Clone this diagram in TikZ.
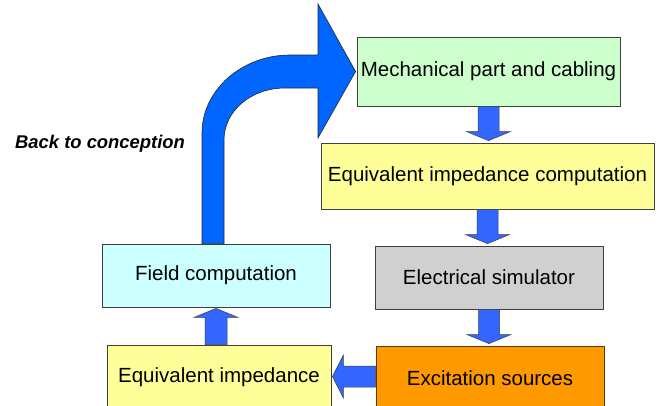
\documentclass[tikz,border=0pt]{standalone}
\usepackage{fontspec}
\setmainfont{Liberation Sans}
\usetikzlibrary{calc}
\definecolor{boxgreen}{HTML}{CCFFCC}
\definecolor{boxyellow}{HTML}{FFFF99}
\definecolor{boxgrey}{HTML}{D0D0D0}
\definecolor{boxorange}{HTML}{FF9900}
\definecolor{boxcyan}{HTML}{CCFFFF}
\definecolor{flowblue}{HTML}{3366FF}
\definecolor{loopblue}{HTML}{0066FF}
\definecolor{edgegrey}{HTML}{404040}
\definecolor{edgebrown}{HTML}{5A3A00}
\tikzset{
  stage/.style={draw=edgegrey, line width=0.8pt, rectangle, inner sep=0pt,
    font=\fontsize{20.5}{24}\selectfont},
  flowarrow/.style={fill=flowblue, draw=edgegrey, line width=0.5pt, line join=miter},
  looparrow/.style={fill=loopblue, draw=black!85, line width=0.6pt},
  note/.style={inner sep=0pt, font=\fontsize{18.4}{22}\selectfont\bfseries\itshape}
}
\begin{document}
\begin{tikzpicture}[x=1pt, y=-1pt]
  \clip (0,0) rectangle (670,405);
  \useasboundingbox (0,0) rectangle (670,405);

  % process stages
  \node[stage, fill=boxgreen, minimum width=263pt, minimum height=69pt] (mech) at (488.5,71.5) {Mechanical part and cabling};
  \node[stage, fill=boxyellow, minimum width=333pt, minimum height=66pt] (eic) at (487.5,176) {Equivalent impedance computation};
  \node[stage, fill=boxgrey, minimum width=228pt, minimum height=63pt] (elec) at (489,277.5) {Electrical simulator};
  \node[stage, fill=boxorange, draw=edgebrown, minimum width=228pt, minimum height=64pt] (exc) at (490,378) {Excitation sources};
  \node[stage, fill=boxyellow, minimum width=224pt, minimum height=64pt] (eqi) at (219,377) {Equivalent impedance};
  \node[stage, fill=boxcyan, minimum width=228pt, minimum height=63pt] (field) at (216,275.5) {Field computation};

  \node[note, anchor=base west] (back) at (15,148) {Back to conception};

  % downward block arrows: shaft from the upper stage, head ending just above the lower one
  \newcommand{\downblock}[2]{%
    \draw[flowarrow] ($(#1.south)+(-10.5,0)$) -- ($(#1.south |- #2.north)+(-10.5,-11)$)
      -- ($(#1.south |- #2.north)+(-22,-11)$) -- ($(#1.south |- #2.north)+(0,-2)$)
      -- ($(#1.south |- #2.north)+(22,-11)$) -- ($(#1.south |- #2.north)+(10.5,-11)$)
      -- ($(#1.south)+(10.5,0)$) -- cycle;}
  \downblock{mech}{eic}
  \downblock{eic}{elec}
  \downblock{elec}{exc}

  % excitation sources -> equivalent impedance
  \draw[flowarrow] ($(exc.west)+(0,-12)$) -- ($(eqi.east |- exc.west)+(12,-12)$)
    -- ($(eqi.east |- exc.west)+(12,-23)$) -- ($(eqi.east |- exc.west)+(1,-1.5)$)
    -- ($(eqi.east |- exc.west)+(12,20)$) -- ($(eqi.east |- exc.west)+(12,9)$)
    -- ($(exc.west)+(0,9)$) -- cycle;

  % equivalent impedance -> field computation
  \draw[flowarrow] ($(field.south |- eqi.north)+(-11,0)$) -- ($(field.south)+(-11,10)$)
    -- ($(field.south)+(-22,10)$) -- ($(field.south)+(0,1)$)
    -- ($(field.south)+(22,10)$) -- ($(field.south)+(11,10)$)
    -- ($(field.south |- eqi.north)+(11,0)$) -- cycle;

  % curved return arrow from field computation back to the mechanical part
  \draw[looparrow] ([xshift=-14pt]field.north) -- (202,133)
    .. controls (202,90) and (242,55) .. (290,55) -- (318,55) -- (318,4)
    -- ([xshift=-1pt]mech.west) -- (318,138) -- (318,88) -- (285,88)
    .. controls (251,88) and (224,111) .. (224,140) -- ([xshift=8pt]field.north) -- cycle;
\end{tikzpicture}
\end{document}
